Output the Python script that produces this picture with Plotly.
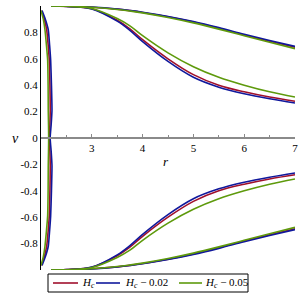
import plotly.graph_objects as go

# Bundle curves: r grid and v values (upper half; lower half mirrored)
r_grid = [2.2, 2.5, 3.0, 3.5, 3.75, 4.0, 4.5, 5.0, 5.5, 6.0, 6.5, 7.0]
outer_blue  = [1.0, 0.999, 0.992, 0.977, 0.966, 0.953, 0.921, 0.882, 0.836, 0.786, 0.739, 0.694]
outer_red   = [1.0, 0.999, 0.991, 0.976, 0.965, 0.951, 0.918, 0.878, 0.831, 0.781, 0.733, 0.687]
outer_green = [1.0, 0.999, 0.990, 0.974, 0.962, 0.948, 0.913, 0.872, 0.825, 0.775, 0.725, 0.677]
inner_blue  = [1.0, 0.997, 0.978, 0.885, 0.815, 0.730, 0.580, 0.460, 0.385, 0.335, 0.297, 0.265]
inner_red   = [1.0, 0.997, 0.979, 0.892, 0.827, 0.745, 0.600, 0.480, 0.400, 0.350, 0.310, 0.278]
inner_green = [1.0, 0.998, 0.981, 0.905, 0.850, 0.775, 0.645, 0.540, 0.460, 0.400, 0.350, 0.310]

# Near-axis curves: v grid and r values (upper half; mirrored below)
v_grid = [0.965, 0.9, 0.82, 0.7, 0.59, 0.4, 0.21, 0.1, 0.0]
axis_blue  = [2.02, 2.085, 2.143, 2.17, 2.19, 2.206, 2.216, 2.20, 2.18]
axis_red   = [2.01, 2.065, 2.112, 2.142, 2.163, 2.176, 2.182, 2.175, 2.165]
axis_green = [2.00, 2.045, 2.078, 2.108, 2.131, 2.14, 2.143, 2.148, 2.151]

names = ["<i>H</i><sub><i>c</i></sub>",
         "<i>H</i><sub><i>c</i></sub> − 0.02",
         "<i>H</i><sub><i>c</i></sub> − 0.05"]
colors = ["#A0102C", "#10189C", "#5E9A0C"]

x_ticks = [3, 4, 5, 6, 7]
y_ticks = [-0.8, -0.6, -0.4, -0.2, 0, 0.2, 0.4, 0.6, 0.8]
y_text = ["-0.8", "-0.6", "-0.4", "-0.2", "0", "0.2", "0.4", "0.6", "0.8"]

FONT = "Liberation Serif"
L, R, T, B = 41, 6, 6, 31
W = H = 301
PW, PH = W - L - R, H - T - B


def px_x(p):
    return (p - L) / PW


def px_y(p):
    return (H - B - p) / PH


fig = go.Figure()
sets = [(outer_red, inner_red, axis_red), (outer_blue, inner_blue, axis_blue),
        (outer_green, inner_green, axis_green)]
for i, (outer, inner, ax) in enumerate(sets):
    c = colors[i]
    lw = 1.6
    for vals in (outer, inner):
        fig.add_trace(go.Scatter(x=r_grid, y=vals, mode="lines",
                                 line=dict(color=c, width=lw, shape="spline"),
                                 showlegend=False, hoverinfo="skip", name=names[i]))
        fig.add_trace(go.Scatter(x=r_grid, y=[-v for v in vals], mode="lines",
                                 line=dict(color=c, width=lw, shape="spline"),
                                 showlegend=False, hoverinfo="skip", name=names[i]))
    xs = ax + ax[-2::-1]
    ys = v_grid + [-v for v in v_grid[-2::-1]]
    fig.add_trace(go.Scatter(x=xs, y=ys, mode="lines",
                             line=dict(color=c, width=lw, shape="spline", smoothing=0.5),
                             name=names[i], showlegend=False, hoverinfo="skip"))

# Manual legend (box, line samples, labels)
shapes = [dict(type="rect", xref="paper", yref="paper",
               x0=px_x(48), x1=px_x(248), y0=px_y(292), y1=px_y(274),
               line=dict(color="black", width=1), fillcolor="white", layer="above")]
line_spans = [(53, 78), (96, 120), (179, 202)]
text_left = [81, 124, 204]
annotations = []
for i in range(3):
    shapes.append(dict(type="line", xref="paper", yref="paper",
                       x0=px_x(line_spans[i][0]), x1=px_x(line_spans[i][1]),
                       y0=px_y(283), y1=px_y(283), line=dict(color=colors[i], width=1.6),
                       layer="above"))
    annotations.append(dict(text=names[i], x=px_x(text_left[i]), y=px_y(283), xref="paper",
                            yref="paper", xanchor="left", yanchor="middle", showarrow=False,
                            font=dict(family=FONT, size=11, color="black"), borderpad=0))

annotations += [
    dict(text="<i>r</i>", x=px_x(166), y=px_y(162), xref="paper", yref="paper", showarrow=False,
         font=dict(family=FONT, size=13)),
    dict(text="<i>v</i>", x=px_x(10), y=px_y(138), xref="paper", yref="paper", showarrow=False,
         font=dict(family=FONT, size=14)),
]

fig.update_layout(
    width=W, height=H,
    margin=dict(l=L, r=R, t=T, b=B, autoexpand=False),
    paper_bgcolor="white", plot_bgcolor="white",
    font=dict(family=FONT, size=11, color="black"),
    showlegend=False,
    xaxis=dict(range=[2, 7], anchor="free", position=0.5, showgrid=False, zeroline=False,
               showline=True, linecolor="#8a8a8a", linewidth=2,
               tickvals=x_ticks, ticks="inside", ticklen=3, tickcolor="#8a8a8a",
               minor=dict(dtick=0.5, ticks="inside", ticklen=2, tickcolor="#8a8a8a"),
               tickfont=dict(family=FONT, size=11), automargin=False),
    yaxis=dict(range=[-1, 1], showgrid=False, zeroline=False, showline=True,
               linecolor="black", linewidth=1, tickvals=y_ticks, ticktext=y_text,
               ticks="", tickfont=dict(family=FONT, size=11), automargin=False),
    shapes=shapes,
    annotations=annotations,
)
fig.write_html("out.html", config={"displayModeBar": False},
               post_script="document.body.style.margin='0px';document.body.style.overflow='hidden';")
